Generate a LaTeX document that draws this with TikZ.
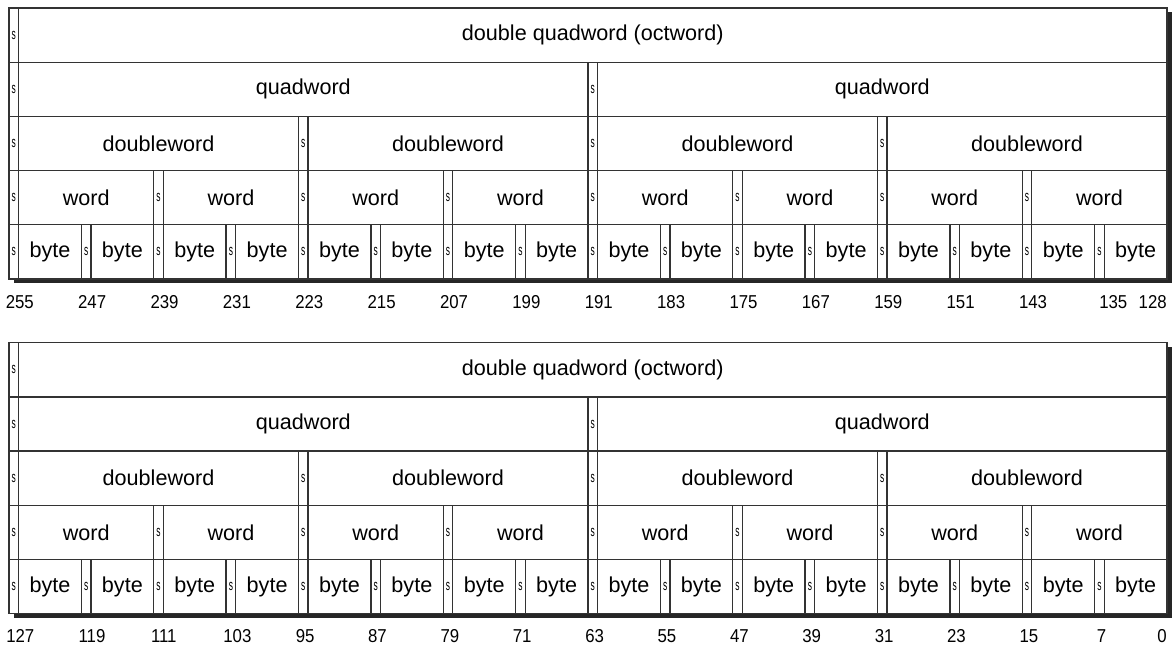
\documentclass[tikz,border=0pt]{standalone}
\usepackage{fontspec}
\setmainfont{Liberation Sans}
\tikzset{
  grid/.style={draw=black!80, line width=0.95pt},
  sbox/.style={grid, rectangle, inner sep=0pt, outer sep=0pt, minimum width=7.2pt,
    minimum height=40.65pt, anchor=north west, font=\fontsize{11.5}{12}\selectfont},
  cell/.style={grid, rectangle, inner sep=0pt, outer sep=0pt, minimum height=40.65pt,
    anchor=north west, font=\fontsize{16.2}{19}\selectfont},
  bitlab/.style={font=\fontsize{14}{16}\selectfont, inner sep=0pt},
  shadowfill/.style={fill=black!85},
}
\newcommand{\stext}{\scalebox{0.55}[1]{s}}
\newcommand{\blab}[1]{\scalebox{0.9}[1]{#1}}
\begin{document}
\begin{tikzpicture}[x=0.75pt,y=-0.75pt]
\useasboundingbox (0,0) rectangle (1175,648);
\foreach \t/\yo in {0/8,1/342.7}{
  \fill[shadowfill] (13.5,\yo+4.5) rectangle (1171.8,\yo+275.5);
  \fill[white] (9,\yo) rectangle (1167,\yo+271);
  \foreach \l/\n/\txt in {0/1/{double quadword (octword)},1/2/quadword,2/4/doubleword,3/8/word,4/16/byte}{
    \foreach \i in {1,...,\n}{
      \pgfmathsetmacro\ww{1158/\n}
      \pgfmathsetmacro\xx{9+(\i-1)*\ww}
      \pgfmathsetmacro\yy{\yo+\l*54.2}
      \pgfmathsetmacro\cw{(\ww-9.6)*0.75}
      \node[sbox] (s-\t-\l-\i) at (\xx,\yy) {\stext};
      \node[cell, minimum width=\cw pt] (c-\t-\l-\i) at (\xx+9.6,\yy) {\txt};
    }
  }
}
% bit labels, top table
\foreach \k in {0,...,14}{
  \pgfmathtruncatemacro\v{255-8*\k}
  \node[bitlab, anchor=base west] (lt-\k) at (9+\k*72.375-3.5,308.5) {\blab{\v}};
}
\node[bitlab, anchor=base west] (lt-15) at (1099,308.5) {\blab{135}};
\node[bitlab, anchor=base east] (lt-16) at (1167,308.5) {\blab{128}};
% bit labels, bottom table
\foreach \k in {0,...,14}{
  \pgfmathtruncatemacro\v{127-8*\k}
  \node[bitlab, anchor=base west] (lb-\k) at (9+\k*72.375-3,642) {\blab{\v}};
}
\node[bitlab, anchor=base west] (lb-15) at (1096.5,642) {\blab{7}};
\node[bitlab, anchor=base east] (lb-16) at (1167,642) {\blab{0}};
\end{tikzpicture}
\end{document}
